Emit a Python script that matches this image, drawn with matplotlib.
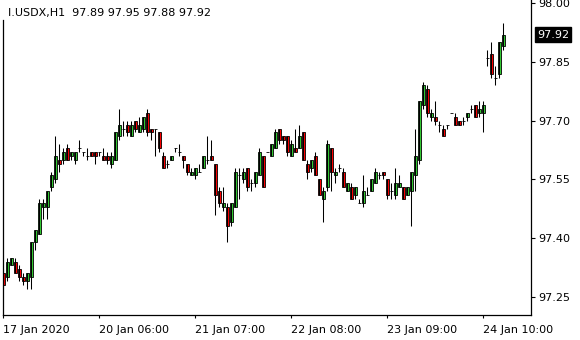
import matplotlib
matplotlib.use("Agg")
import matplotlib.pyplot as plt
import numpy as np

# I.USDX H1 candles (oldest first)
opens = [97.31, 97.30, 97.33, 97.34, 97.32, 97.30, 97.29, 97.30, 97.39, 97.41,
         97.48, 97.48, 97.53, 97.55, 97.60, 97.60, 97.63, 97.61, 97.60, 97.63,
         97.62, 97.61, 97.62, 97.62, 97.62, 97.61, 97.61, 97.59, 97.60, 97.66,
         97.68, 97.69, 97.66, 97.70, 97.67, 97.68, 97.72, 97.68, 97.68, 97.67,
         97.61, 97.59, 97.60, 97.63, 97.62, 97.61, 97.59, 97.56, 97.56, 97.57,
         97.58, 97.60, 97.61, 97.59, 97.52, 97.48, 97.48, 97.44, 97.48, 97.56,
         97.55, 97.58, 97.54, 97.54, 97.56, 97.61, 97.62, 97.61, 97.63, 97.68,
         97.66, 97.66, 97.61, 97.63, 97.63, 97.67, 97.59, 97.58, 97.61, 97.55,
         97.50, 97.53, 97.63, 97.56, 97.58, 97.57, 97.52, 97.53, 97.51, 97.49,
         97.49, 97.51, 97.52, 97.54, 97.56, 97.57, 97.55, 97.52, 97.51, 97.53,
         97.53, 97.51, 97.52, 97.56, 97.60, 97.74, 97.78, 97.71, 97.71, 97.69,
         97.68, 97.69, 97.72, 97.71, 97.70, 97.70, 97.71, 97.73, 97.74, 97.72,
         97.72, 97.86, 97.87, 97.81, 97.82, 97.89]
highs = [97.32, 97.35, 97.35, 97.35, 97.33, 97.31, 97.31, 97.39, 97.42, 97.50,
         97.50, 97.52, 97.57, 97.66, 97.64, 97.63, 97.64, 97.62, 97.62, 97.65,
         97.62, 97.63, 97.62, 97.62, 97.62, 97.63, 97.62, 97.62, 97.67, 97.73,
         97.70, 97.70, 97.70, 97.70, 97.71, 97.71, 97.73, 97.68, 97.68, 97.67,
         97.62, 97.60, 97.61, 97.63, 97.64, 97.61, 97.59, 97.58, 97.58, 97.59,
         97.61, 97.66, 97.65, 97.59, 97.53, 97.53, 97.49, 97.49, 97.58, 97.58,
         97.58, 97.58, 97.55, 97.57, 97.63, 97.61, 97.62, 97.64, 97.68, 97.68,
         97.66, 97.66, 97.65, 97.68, 97.69, 97.67, 97.60, 97.60, 97.62, 97.55,
         97.53, 97.65, 97.63, 97.58, 97.59, 97.58, 97.54, 97.54, 97.53, 97.50,
         97.56, 97.53, 97.55, 97.58, 97.57, 97.57, 97.55, 97.54, 97.58, 97.56,
         97.53, 97.53, 97.57, 97.68, 97.75, 97.80, 97.79, 97.73, 97.75, 97.70,
         97.69, 97.69, 97.72, 97.72, 97.70, 97.71, 97.72, 97.74, 97.74, 97.75,
         97.75, 97.88, 97.90, 97.84, 97.90, 97.95]
lows = [97.27, 97.29, 97.33, 97.31, 97.29, 97.28, 97.27, 97.27, 97.37, 97.41,
        97.45, 97.45, 97.52, 97.54, 97.57, 97.59, 97.60, 97.60, 97.59, 97.62,
        97.61, 97.60, 97.61, 97.59, 97.61, 97.60, 97.59, 97.58, 97.60, 97.65,
        97.66, 97.66, 97.66, 97.67, 97.67, 97.67, 97.66, 97.65, 97.61, 97.62,
        97.58, 97.58, 97.60, 97.62, 97.61, 97.58, 97.56, 97.56, 97.55, 97.57,
        97.58, 97.59, 97.60, 97.46, 97.48, 97.47, 97.39, 97.43, 97.48, 97.50,
        97.54, 97.52, 97.52, 97.53, 97.56, 97.53, 97.62, 97.61, 97.63, 97.64,
        97.64, 97.61, 97.61, 97.62, 97.63, 97.60, 97.55, 97.57, 97.56, 97.51,
        97.44, 97.52, 97.52, 97.54, 97.57, 97.53, 97.52, 97.50, 97.50, 97.49,
        97.48, 97.51, 97.52, 97.54, 97.55, 97.55, 97.50, 97.50, 97.50, 97.53,
        97.50, 97.51, 97.43, 97.52, 97.59, 97.73, 97.71, 97.70, 97.69, 97.67,
        97.66, 97.68, 97.72, 97.69, 97.69, 97.69, 97.70, 97.72, 97.71, 97.71,
        97.67, 97.84, 97.81, 97.79, 97.81, 97.88]
closes = [97.28, 97.34, 97.35, 97.31, 97.30, 97.29, 97.31, 97.39, 97.42, 97.49,
          97.49, 97.52, 97.56, 97.61, 97.59, 97.62, 97.60, 97.62, 97.62, 97.63,
          97.62, 97.61, 97.61, 97.61, 97.62, 97.60, 97.60, 97.61, 97.67, 97.69,
          97.68, 97.67, 97.69, 97.68, 97.69, 97.71, 97.67, 97.67, 97.68, 97.63,
          97.58, 97.59, 97.61, 97.63, 97.62, 97.60, 97.57, 97.57, 97.58, 97.57,
          97.61, 97.60, 97.60, 97.51, 97.49, 97.49, 97.43, 97.49, 97.57, 97.56,
          97.57, 97.53, 97.54, 97.57, 97.62, 97.53, 97.62, 97.64, 97.67, 97.65,
          97.65, 97.62, 97.64, 97.62, 97.66, 97.60, 97.57, 97.60, 97.56, 97.51,
          97.52, 97.64, 97.57, 97.57, 97.58, 97.53, 97.54, 97.50, 97.53, 97.49,
          97.52, 97.51, 97.55, 97.57, 97.56, 97.56, 97.51, 97.52, 97.54, 97.54,
          97.50, 97.53, 97.57, 97.61, 97.75, 97.79, 97.72, 97.72, 97.70, 97.69,
          97.66, 97.69, 97.72, 97.69, 97.69, 97.70, 97.72, 97.73, 97.71, 97.73,
          97.74, 97.86, 97.82, 97.81, 97.90, 97.92]

tick_bars = [0, 24, 48, 72, 96, 120]
tick_labels = ["17 Jan 2020", "20 Jan 06:00", "21 Jan 07:00",
               "22 Jan 08:00", "23 Jan 09:00", "24 Jan 10:00"]
price_ticks = [97.25, 97.40, 97.55, 97.70, 97.85, 98.00]

o = np.array(opens); h = np.array(highs); l = np.array(lows); c = np.array(closes)
x = np.arange(len(o))

plt.rcParams['font.family'] = 'DejaVu Sans'
plt.rcParams['font.size'] = 8

fig = plt.figure(figsize=(5.8, 3.4), dpi=100)
ax = fig.add_axes([2.5/580, 25/340, 528.5/580, 315/340])

#wicks
ax.vlines(x, l, h, color='black', linewidth=0.75)

#bodies: green up, red down, black line for doji
cols = np.where(c > o, '#33cc33', np.where(c < o, '#ff0000', 'black'))
ax.bar(x, np.abs(c - o), bottom=np.minimum(o, c), width=0.8, color=cols,
       edgecolor='black', linewidth=0.6)

ax.set_xlim(-0.2, 131.9)
ax.set_ylim(97.2034, 98.0084)

ax.yaxis.tick_right()
ax.set_yticks(price_ticks)
ax.set_yticklabels([f"{p:.2f}" for p in price_ticks])
ax.tick_params(axis='y', direction='out', length=3, width=0.8, pad=2)
ax.set_xticks(tick_bars)
ax.set_xticklabels(tick_labels, ha='left')
ax.tick_params(axis='x', direction='out', length=2.5, width=0.8, pad=5)
for lab in ax.get_xticklabels():
    lab.set_horizontalalignment('left')

ax.spines['top'].set_visible(False)
ax.spines['left'].set_bounds(97.2034, 97.957)
for s in ['left', 'right', 'bottom']:
    ax.spines[s].set_linewidth(0.9)

# last price marker
ax.annotate(f"{c[-1]:.2f}", xy=(1, c[-1]), xycoords=('axes fraction', 'data'),
            xytext=(6, 0), textcoords='offset pixels', va='center', ha='left',
            color='white', fontsize=8,
            bbox=dict(boxstyle='square,pad=0.2', fc='black', ec='black'))

ax.text(5/528.5, 1 - 13/315, f"I.USDX,H1  {o[-1]:.2f} {h[-1]:.2f} {l[-1]:.2f} {c[-1]:.2f}",
        transform=ax.transAxes, va='center', ha='left', fontsize=8)

plt.savefig("out.png", dpi=100)
